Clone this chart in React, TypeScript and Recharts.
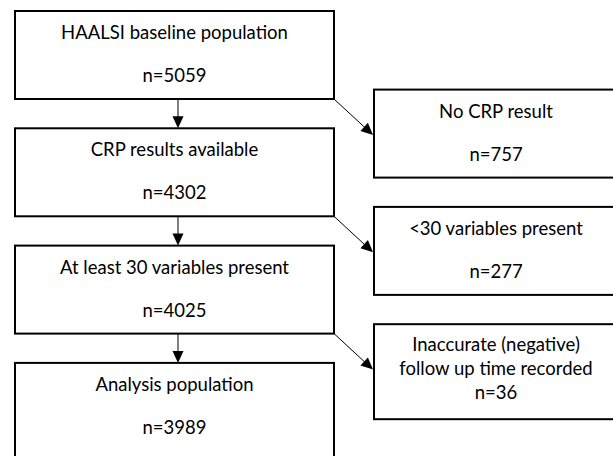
import React from 'react';
import { ScatterChart, Scatter, XAxis, YAxis } from 'recharts';

// flow stages (left column) and exclusions (right column)
const stageLabels = [
  'HAALSI baseline population',
  'CRP results available',
  'At least 30 variables present',
  'Analysis population',
];
const stageCounts = [5059, 4302, 4025, 3989];

const exclusionLabels = [
  ['No CRP result'],
  ['<30 variables present'],
  ['Inaccurate (negative)', 'follow up time recorded'],
];
const exclusionCounts = [757, 277, 36];

const W = 613;
const H = 456;

// layout: column 0 = stages, column 1 = exclusions; row = stage step
const COL_LEFT = 15;
const COL_GAP = 359;
const ROW_TOP = 11;
const ROW_STEP = 117.3;
const EXCL_OFFSET = 0.67;

const MAIN_W = 319;
const MAIN_H = 88;
const EXCL_W = 250;
const FONT = 'Lato, "Open Sans", sans-serif';
const FS = 18.5;

const stageData = stageLabels.map((label, i) => ({
  col: 0,
  row: i,
  lines: [label],
  n: stageCounts[i],
  last: i === stageLabels.length - 1,
}));

const exclusionData = exclusionLabels.map((lines, i) => ({
  col: 1,
  row: i + EXCL_OFFSET,
  lines,
  n: exclusionCounts[i],
}));

const xDomain = [-COL_LEFT / COL_GAP, (W - COL_LEFT) / COL_GAP];
const yDomain = [-ROW_TOP / ROW_STEP, (H - ROW_TOP) / ROW_STEP];

const arrowHead = (x: number, y: number, angle: number, len = 12, half = 5.5) => {
  const ca = Math.cos(angle);
  const sa = Math.sin(angle);
  const bx = x - len * ca;
  const by = y - len * sa;
  const p1 = `${bx - half * sa},${by + half * ca}`;
  const p2 = `${bx + half * sa},${by - half * ca}`;
  return <polygon points={`${x},${y} ${p1} ${p2}`} fill="#000" />;
};

const Label = ({ x, y, children }: any) => (
  <text x={x} y={y} textAnchor="middle" fontFamily={FONT} fontSize={FS} fill="#000">
    {children}
  </text>
);

const StageBox = (props: any) => {
  const { cx, cy, payload } = props;
  const h = payload.last ? 120 : MAIN_H;
  const mid = cx + MAIN_W / 2;
  const bottom = cy + MAIN_H;
  const ax = cx + 163;
  const nextTop = cy + ROW_STEP;
  const diagEndX = COL_LEFT + COL_GAP - 1;
  const diagEndY = bottom + 36;
  const ang = Math.atan2(diagEndY - bottom, diagEndX - (cx + MAIN_W));
  return (
    <g>
      <rect x={cx} y={cy} width={MAIN_W} height={h} fill="#fff" stroke="#000" strokeWidth={2} />
      <Label x={mid} y={cy + 28}>{payload.lines[0]}</Label>
      <Label x={mid} y={cy + 71}>{`n=${payload.n}`}</Label>
      {!payload.last && (
        <g>
          <line x1={ax} y1={bottom} x2={ax} y2={nextTop - 8} stroke="#000" strokeWidth={1} />
          {arrowHead(ax, nextTop, Math.PI / 2)}
          <line x1={cx + MAIN_W} y1={bottom} x2={diagEndX - 6} y2={diagEndY - 5.5} stroke="#000" strokeWidth={1} />
          {arrowHead(diagEndX, diagEndY, ang)}
        </g>
      )}
    </g>
  );
};

const ExclusionBox = (props: any) => {
  const { cx, cy, payload } = props;
  const multi = payload.lines.length > 1;
  const h = multi ? 95 : MAIN_H;
  const mid = cx + 122;
  return (
    <g>
      <rect x={cx} y={cy} width={EXCL_W} height={h} fill="#fff" stroke="#000" strokeWidth={2} />
      {multi ? (
        <>
          {payload.lines.map((l: string, j: number) => (
            <Label key={j} x={mid} y={cy + 27 + j * 24}>{l}</Label>
          ))}
          <Label x={mid} y={cy + 27 + payload.lines.length * 24}>{`n=${payload.n}`}</Label>
        </>
      ) : (
        <>
          <Label x={mid} y={cy + 28}>{payload.lines[0]}</Label>
          <Label x={mid} y={cy + 71}>{`n=${payload.n}`}</Label>
        </>
      )}
    </g>
  );
};

export default function App() {
  return (
    <div style={{ position: 'absolute', left: 0, top: 0, width: W, height: H, background: '#fff', overflow: 'hidden' }}>
      <ScatterChart width={W} height={H} margin={{ top: 0, right: 0, bottom: 0, left: 0 }}>
        <XAxis type="number" dataKey="col" domain={xDomain} hide />
        <YAxis type="number" dataKey="row" domain={yDomain} reversed hide />
        <Scatter data={exclusionData} shape={ExclusionBox} isAnimationActive={false} />
        <Scatter data={stageData} shape={StageBox} isAnimationActive={false} />
      </ScatterChart>
    </div>
  );
}
